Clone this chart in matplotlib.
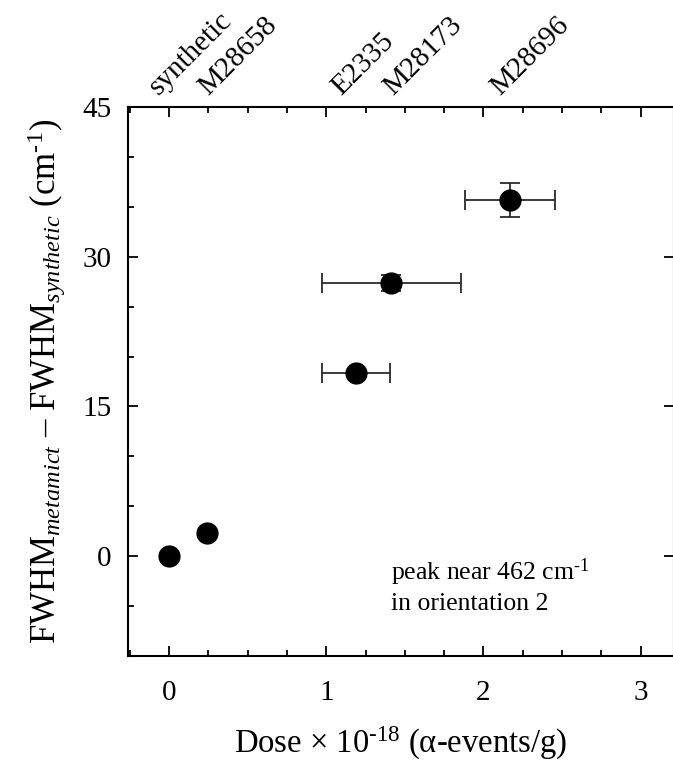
import matplotlib
matplotlib.use("Agg")
import matplotlib.pyplot as plt
from matplotlib.ticker import MultipleLocator
from matplotlib.transforms import blended_transform_factory, offset_copy

# Samples, dose (x 10^18 alpha-events/g) and FWHM broadening (cm^-1)
samples = ["synthetic", "M28658", "E2335", "M28173", "M28696"]
dose = [0.0, 0.24, 1.19, 1.415, 2.17]
dose_err = [0.0, 0.0, 0.215, 0.44, 0.287]
fwhm_diff = [0.0, 2.35, 18.4, 27.4, 35.7]
fwhm_err = [0.0, 0.0, 0.0, 0.8, 1.7]

# Where the sample names start along the top edge (dose units)
name_pos = [-0.07, 0.25, 1.095, 1.425, 2.105]

plt.rcParams["font.family"] = ["Liberation Serif", "DejaVu Serif"]
plt.rcParams["mathtext.fontset"] = "custom"
plt.rcParams["mathtext.rm"] = "Liberation Serif"
plt.rcParams["mathtext.it"] = "Liberation Serif:italic"
plt.rcParams["mathtext.bf"] = "Liberation Serif:bold"

W, H = 673, 767
fig = plt.figure(figsize=(W / 100, H / 100), dpi=100)
x0, x1, ytop, ybot = 128, 674, 107, 656
ax = fig.add_axes([x0 / W, 1 - ybot / H, (x1 - x0) / W, (ybot - ytop) / H])

ax.errorbar(dose, fwhm_diff, xerr=dose_err, yerr=fwhm_err, fmt="o",
            ms=15, mfc="black", mec="black", ecolor="#2a2a2a",
            elinewidth=1.3, capsize=7, capthick=1.3, zorder=3)

ax.set_xlim(-0.262, 3.213)
ax.set_ylim(-10, 45)
ax.xaxis.set_major_locator(MultipleLocator(1))
ax.xaxis.set_minor_locator(MultipleLocator(0.25))
ax.yaxis.set_major_locator(MultipleLocator(15))
ax.yaxis.set_minor_locator(MultipleLocator(5))

for s in ax.spines.values():
    s.set_linewidth(1.5)

ax.tick_params(which="both", direction="in", top=True, right=True,
               width=1.3, labelsize=21)
ax.tick_params(axis="y", pad=12)
ax.tick_params(axis="x", pad=17)
ax.tick_params(which="major", length=7)
ax.tick_params(which="minor", length=4)
ax.tick_params(axis="y", which="minor", right=False)

ax.set_xlabel("Dose × 10$^{\\text{-18}}$ (α-events/g)", fontsize=23.5,
              labelpad=14)
ax.set_ylabel("FWHM$_{metamict}$ – FWHM$_{synthetic}$ (cm$^{\\text{-1}}$)",
              fontsize=25, labelpad=10)

ax.text(0.482, 0.182, "peak near 462 cm$^{\\text{-1}}$\nin orientation 2",
        transform=ax.transAxes, fontsize=18.5, ha="left", va="top",
        linespacing=1.3)

# Sample names along the top edge
tr = blended_transform_factory(ax.transData, ax.transAxes)
tr = offset_copy(tr, fig=fig, x=0, y=11, units="dots")
for name, xp in zip(samples, name_pos):
    ax.text(xp, 1.0, name, transform=tr, rotation=45, rotation_mode="anchor",
            ha="left", va="baseline", fontsize=21, clip_on=False)

fig.savefig("out.png", dpi=100)
